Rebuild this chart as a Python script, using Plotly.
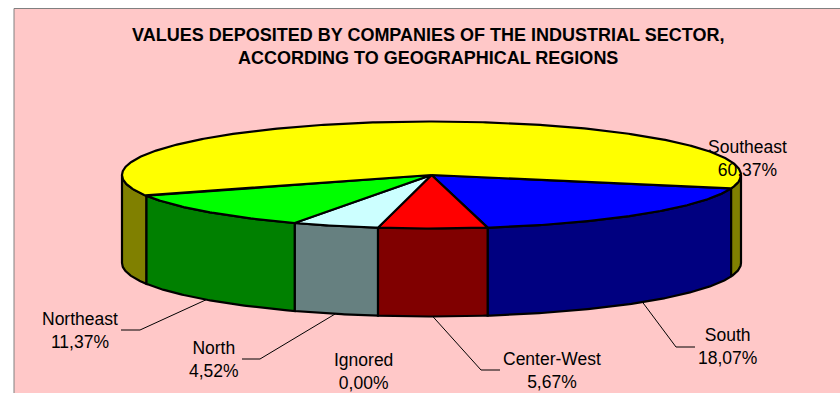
import numpy as np
import plotly.graph_objects as go

# ---- data (clockwise from the South slice)
regions = ["South", "Center-West", "Ignored", "North", "Northeast", "Southeast"]
shares = [18.07, 5.67, 0.00, 4.52, 11.37, 60.37]
top_colors = ["#0000FF", "#FF0000", "#FFFFFF", "#CCFFFF", "#00FF00", "#FFFF00"]
wall_colors = ["#000080", "#800000", "#808080", "#668080", "#008000", "#808000"]
title_lines = ["VALUES DEPOSITED BY COMPANIES OF THE INDUSTRIAL SECTOR,",
               "ACCORDING TO GEOGRAPHICAL REGIONS"]

# ---- layout / style
W, H = 840, 393
CX, CY, RX, RY, DEPTH = 431.5, 175, 309.5, 53.5, 88
START = 14.5
BG = "#FFC8C8"
FONT = "Liberation Sans, Arial, sans-serif"
LABEL_SIZE = 17.5
# label centre (x, y of block centre), leader elbow, leader end
label_pos = {
    "South": (727, 346, (676, 347), (695, 347)),
    "Center-West": (552, 370, (481, 370), (500, 370)),
    "Ignored": (363, 371, None, None),
    "North": (214, 359, (260, 359), (242, 359)),
    "Northeast": (80, 330, (140, 330), (121, 330)),
    "Southeast": (747, 158, None, None),
}


def arc(a0, a1, dy=0.0):
    t = np.radians(np.linspace(a0, a1, max(2, int(abs(a1 - a0) * 2) + 2)))
    return CX + RX * np.cos(t), CY + RY * np.sin(t) + dy


fig = go.Figure()
line = dict(color="black", width=2.2)
edges = np.concatenate([[0], np.cumsum(shares)]) * 3.6 + START
spans = list(zip(edges[:-1], edges[1:]))


def add_poly(x, y, color):
    fig.add_trace(go.Scatter(x=x, y=y, mode="lines", fill="toself", fillcolor=color,
                             line=line, hoverinfo="skip", showlegend=False))


# side walls (only the part turned towards the viewer)
for (a0, a1), wc, val in zip(spans, wall_colors, shares):
    if val == 0:
        continue
    for lo, hi in [(a0, min(a1, 180)), (max(a0, 360), a1)]:
        if hi > lo:
            xt, yt = arc(lo, hi)
            xb, yb = arc(hi, lo, DEPTH)
            add_poly(np.r_[xt, xb, xt[0]], np.r_[yt, yb, yt[0]], wc)

# top faces
for (a0, a1), tc, val in zip(spans, top_colors, shares):
    if val == 0:
        continue
    xt, yt = arc(a0, a1)
    add_poly(np.r_[CX, xt, CX], np.r_[CY, yt, CY], tc)

# labels and leader lines
annotations = []
for name, val, (a0, a1) in zip(regions, shares, spans):
    lx, ly, elbow, end = label_pos[name]
    annotations.append(dict(
        x=lx, y=ly, xref="x", yref="y", showarrow=False, align="center",
        text=f"{name}<br>{val:.2f}%".replace(".", ","),
        font=dict(family=FONT, size=LABEL_SIZE, color="black")))
    if elbow:
        m = np.radians((a0 + a1) / 2)
        sx, sy = CX + RX * np.cos(m), CY + RY * np.sin(m) + DEPTH
        fig.add_trace(go.Scatter(x=[sx, elbow[0], end[0]], y=[sy, elbow[1], end[1]],
                                 mode="lines", line=dict(color="black", width=1),
                                 hoverinfo="skip", showlegend=False))

annotations.append(dict(
    x=427.5, y=46, xref="x", yref="y", showarrow=False, align="center",
    text="<br>".join(f"<b>{t}</b>" for t in title_lines),
    font=dict(family=FONT, size=18, color="black")))

fig.update_layout(
    width=W, height=H, margin=dict(l=0, r=0, t=0, b=0),
    paper_bgcolor="white", plot_bgcolor="white",
    xaxis=dict(range=[0, W], visible=False, fixedrange=True),
    yaxis=dict(range=[H, 0], visible=False, fixedrange=True),
    annotations=annotations,
    shapes=[dict(type="rect", xref="x", yref="y", x0=14, y0=8.5, x1=W + 10, y1=H + 10,
                 fillcolor=BG, line=dict(color="#808080", width=1), layer="below")],
)

fig.write_html("out.html", config=dict(displayModeBar=False),
               post_script="document.body.style.margin='0';document.body.style.overflow='hidden';")
